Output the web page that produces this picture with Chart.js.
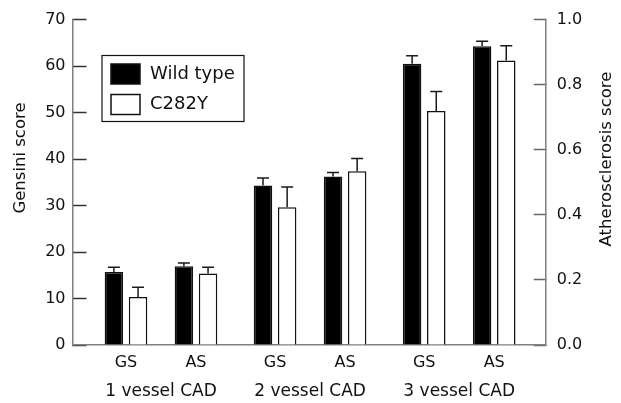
<!DOCTYPE html>
<html>
<head>
<meta charset="utf-8">
<script src="https://cdn.jsdelivr.net/npm/chart.js@4/dist/chart.umd.min.js"></script>
<style>
  html, body { margin: 0; padding: 0; background: #fff; }
  #wrap { width: 621px; height: 403px; }
</style>
</head>
<body>
<div id="wrap"><canvas id="chart" width="621" height="403"></canvas></div>
<script>
// Categories
const groups = ['1 vessel CAD', '2 vessel CAD', '3 vessel CAD'];
const scoreLabels = ['GS', 'AS'];
const seriesNames = ['Wild type', 'C282Y'];
const leftTitle = 'Gensini score';
const rightTitle = 'Atherosclerosis score';

// Gensini score (left axis): means and upper error
const wildGS = [15.7, 34.3, 60.5];
const wildGSErr = [1.0, 1.6, 1.7];
const mutGS = [10.3, 29.6, 50.3];
const mutGSErr = [2.1, 4.4, 4.2];

// Atherosclerosis score (right axis): means and upper error
const wildAS = [0.242, 0.518, 0.918];
const wildASErr = [0.010, 0.012, 0.015];
const mutAS = [0.220, 0.534, 0.874];
const mutASErr = [0.019, 0.039, 0.045];

// Axis ranges
const gensiniRange = [0, 70, 10];
const atheroRange = [0, 1, 0.2];

// Horizontal layout: GS/AS one unit apart, groups a little further apart
const GROUP_STEP = 2.13;
const X_MIN = -0.764;
const X_MAX = 5.996;
const slot = (g, s) => g * GROUP_STEP + s;
const barSlots = [];
groups.forEach((_, g) => scoreLabels.forEach((__, s) => barSlots.push(slot(g, s))));
const groupCentres = groups.map((_, g) => slot(g, 0.5));

const FONT = '"DejaVu Sans", "Liberation Sans", sans-serif';
const INK = '#111';

// One dataset per series and score; each fills only its own sub-slot
function series(label, values, errs, sub, axis, fill) {
  const data = [], errors = [];
  groups.forEach((_, g) => {
    scoreLabels.forEach((__, s) => {
      data.push({ x: slot(g, s), y: s === sub ? values[g] : null });
      errors.push(s === sub ? errs[g] : null);
    });
  });
  return {
    label, data, errors, yAxisID: axis,
    backgroundColor: fill, borderColor: '#111', borderWidth: 1.5,
    borderSkipped: 'bottom', skipNull: true,
    categoryPercentage: 0.69, barPercentage: 0.765
  };
}

const datasets = [
  series(seriesNames[0], wildGS, wildGSErr, 0, 'y', '#000'),
  series(seriesNames[1], mutGS, mutGSErr, 0, 'y', '#fff'),
  series(seriesNames[0], wildAS, wildASErr, 1, 'y2', '#000'),
  series(seriesNames[1], mutAS, mutASErr, 1, 'y2', '#fff')
];

// Upper error whiskers with caps
const errorBars = {
  id: 'errorBars',
  afterDatasetsDraw(chart) {
    const ctx = chart.ctx;
    ctx.save();
    ctx.strokeStyle = '#1a1a1a';
    ctx.lineWidth = 1.5;
    chart.data.datasets.forEach((ds, di) => {
      const meta = chart.getDatasetMeta(di);
      const scale = chart.scales[ds.yAxisID];
      meta.data.forEach((bar, i) => {
        const v = ds.data[i].y, e = ds.errors[i];
        if (v == null || e == null) return;
        const yTop = scale.getPixelForValue(v + e);
        ctx.beginPath();
        ctx.moveTo(bar.x, bar.y);
        ctx.lineTo(bar.x, yTop);
        ctx.moveTo(bar.x - 6, yTop);
        ctx.lineTo(bar.x + 6, yTop);
        ctx.stroke();
      });
    });
    ctx.restore();
  }
};

// Boxed legend inside the plot, plus the two rotated axis titles
const annotations = {
  id: 'annotations',
  afterDraw(chart) {
    const ctx = chart.ctx;
    const a = chart.chartArea;
    ctx.save();
    // legend frame
    const bx = a.left + 29.5, by = a.top + 36, bw = 142, bh = 66;
    ctx.strokeStyle = '#111';
    ctx.lineWidth = 1.2;
    ctx.strokeRect(bx, by, bw, bh);
    const fills = ['#000', '#fff'];
    seriesNames.forEach((name, i) => {
      const sy = by + 8.5 + i * 30.5;
      ctx.fillStyle = fills[i];
      ctx.fillRect(bx + 9, sy, 29, 20);
      ctx.strokeStyle = '#111';
      ctx.lineWidth = 1.5;
      ctx.strokeRect(bx + 9, sy, 29, 20);
      ctx.fillStyle = INK;
      ctx.font = '18px ' + FONT;
      ctx.textBaseline = 'middle';
      ctx.textAlign = 'left';
      ctx.fillText(name, bx + 48, sy + 10);
    });
    // axis titles
    ctx.font = '16.5px ' + FONT;
    ctx.fillStyle = INK;
    ctx.textAlign = 'center';
    ctx.textBaseline = 'middle';
    ctx.translate(21, 158);
    ctx.rotate(-Math.PI / 2);
    ctx.fillText(leftTitle, 0, 0);
    ctx.setTransform(1, 0, 0, 1, 0, 0);
    ctx.translate(607, 159);
    ctx.rotate(-Math.PI / 2);
    ctx.fillText(rightTitle, 0, 0);
    ctx.restore();
  }
};

// Vertical axes: fixed width, no extra label overhang at the ends
const fixVertical = width => s => {
  s.width = width;
  s.paddingTop = 0;
  s.paddingBottom = 0;
};

new Chart(document.getElementById('chart'), {
  type: 'bar',
  data: { datasets },
  plugins: [errorBars, annotations],
  options: {
    responsive: false,
    animation: false,
    layout: { padding: { top: 19.5, right: 0, bottom: 0, left: 0 } },
    plugins: { legend: { display: false }, tooltip: { enabled: false } },
    scales: {
      x: {
        type: 'linear', position: 'bottom', weight: 0, offset: false,
        min: X_MIN, max: X_MAX,
        afterBuildTicks: s => { s.ticks = barSlots.map(v => ({ value: v })); },
        afterFit: s => { s.height = 26; },
        ticks: {
          callback: (v, i) => scoreLabels[i % 2],
          autoSkip: false, maxRotation: 0, padding: 8,
          color: INK, font: { family: FONT, size: 16 }
        },
        grid: { display: true, offset: false, drawOnChartArea: false, drawTicks: false },
        border: { display: true, color: '#808080', width: 1.5 }
      },
      x2: {
        type: 'linear', position: 'bottom', weight: 1, offset: false,
        min: X_MIN, max: X_MAX,
        afterBuildTicks: s => { s.ticks = groupCentres.map(v => ({ value: v })); },
        afterFit: s => { s.height = 32; },
        ticks: {
          callback: (v, i) => groups[i],
          autoSkip: false, maxRotation: 0, padding: 2,
          color: INK, font: { family: FONT, size: 17 }
        },
        grid: { display: false, offset: false },
        border: { display: false }
      },
      y: {
        type: 'linear', position: 'left',
        min: gensiniRange[0], max: gensiniRange[1],
        afterFit: fixVertical(72.5),
        ticks: {
          stepSize: gensiniRange[2], padding: 21,
          color: INK, font: { family: FONT, size: 16 }
        },
        grid: { drawOnChartArea: false, tickLength: -14, tickColor: '#333', tickWidth: 1.5 },
        border: { display: true, color: '#808080', width: 1.5 }
      },
      y2: {
        type: 'linear', position: 'right',
        min: atheroRange[0], max: atheroRange[1],
        afterFit: fixVertical(75.3),
        ticks: {
          stepSize: atheroRange[2], padding: 23,
          callback: v => v.toFixed(1),
          color: INK, font: { family: FONT, size: 16 }
        },
        grid: { drawOnChartArea: false, tickLength: -12, tickColor: '#666', tickWidth: 1.5 },
        border: { display: true, color: '#808080', width: 1.5 }
      }
    }
  }
});
</script>
</body>
</html>
